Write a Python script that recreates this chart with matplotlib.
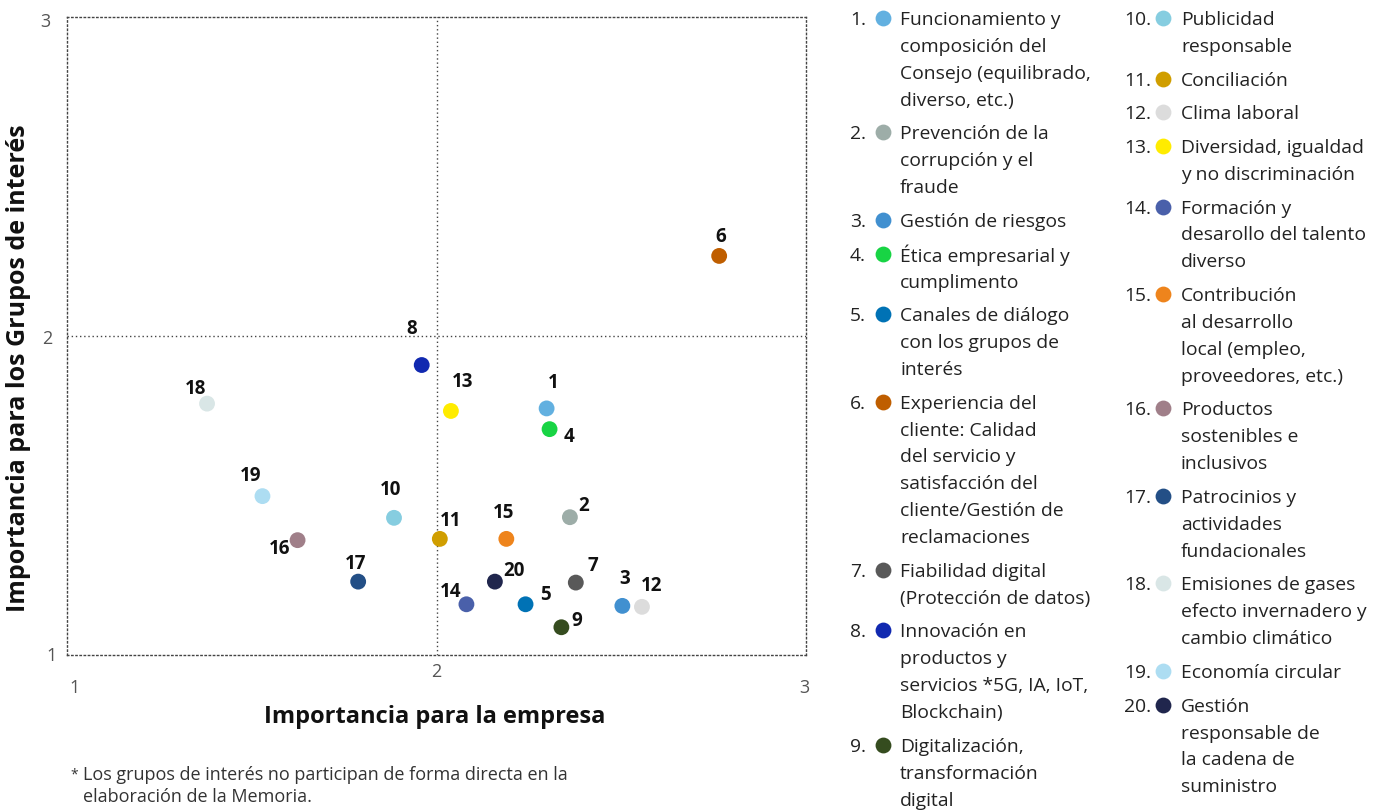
import matplotlib.pyplot as plt

plt.rcParams['font.family'] = ['Open Sans', 'DejaVu Sans']

# Datos: importancia para la empresa (x) y para los grupos de interés (y)
ids = list(range(1, 21))
empresa = [2.298, 2.361, 2.503, 2.306, 2.241, 2.765, 2.377, 1.960, 2.338, 1.885,
           2.009, 2.556, 2.039, 2.081, 2.189, 1.624, 1.788, 1.379, 1.529, 2.158]
grupos = [1.773, 1.432, 1.154, 1.708, 1.159, 2.251, 1.227, 1.909, 1.087, 1.430,
          1.364, 1.151, 1.765, 1.159, 1.364, 1.360, 1.230, 1.788, 1.498, 1.230]
colores = ['#62B0E0', '#9DADA8', '#4190D0', '#18D444', '#0072B5', '#BF5E00', '#595959',
           '#1129B0', '#354C1F', '#86CDE0', '#D09E00', '#DCDCDC', '#FFEC00', '#4A60AA',
           '#EE841C', '#A07F89', '#234F86', '#D9E6E6', '#ADDDF2', '#20264D']
temas = [
    "Funcionamiento y\ncomposición del\nConsejo (equilibrado,\ndiverso, etc.)",
    "Prevención de la\ncorrupción y el\nfraude",
    "Gestión de riesgos",
    "Ética empresarial y\ncumplimento",
    "Canales de diálogo\ncon los grupos de\ninterés",
    "Experiencia del\ncliente: Calidad\ndel servicio y\nsatisfacción del\ncliente/Gestión de\nreclamaciones",
    "Fiabilidad digital\n(Protección de datos)",
    "Innovación en\nproductos y\nservicios *5G, IA, IoT,\nBlockchain)",
    "Digitalización,\ntransformación\ndigital",
    "Publicidad\nresponsable",
    "Conciliación",
    "Clima laboral",
    "Diversidad, igualdad\ny no discriminación",
    "Formación y\ndesarollo del talento\ndiverso",
    "Contribución\nal desarrollo\nlocal (empleo,\nproveedores, etc.)",
    "Productos\nsostenibles e\ninclusivos",
    "Patrocinios y\nactividades\nfundacionales",
    "Emisiones de gases\nefecto invernadero y\ncambio climático",
    "Economía circular",
    "Gestión\nresponsable de\nla cadena de\nsuministro",
]
ticks = [1, 2, 3]

# desplazamiento de las etiquetas numéricas (px, respecto al punto)
label_offsets = [(7, -25), (14, -11), (2, -27), (19, 8), (20, -9), (2, -19), (17, -17),
                 (-10, -36), (15, -6), (-3, -28), (11, -18), (10, -21), (12, -29),
                 (-16, -12), (-3, -26), (-18, 9), (-3, -18), (-12, -15), (-12, -20),
                 (19, -11)]

W, H = 1384, 810
fig = plt.figure(figsize=(W / 100, H / 100), dpi=100)
ax = fig.add_axes([67 / W, 1 - 655 / H, 739 / W, 638 / H])
ax.set_xlim(1, 3)
ax.set_ylim(1, 3)
dots = (0, (1, 2))
for sp in ax.spines.values():
    sp.set_linestyle(dots)
    sp.set_color('#444444')
    sp.set_linewidth(1.0)
ax.axvline(2, color='#444444', lw=1.0, ls=dots)
ax.axhline(2, color='#444444', lw=1.0, ls=dots)
ax.set_xticks([])
ax.set_yticks([])

ax.scatter(empresa, grupos, s=130, c=colores, zorder=3, linewidths=0)
for i, n in enumerate(ids):
    dx, dy = label_offsets[i]
    ax.annotate(str(n), (empresa[i], grupos[i]), xytext=(dx, -dy), textcoords='offset pixels',
                ha='center', va='center', fontsize=13.5, fontweight='bold', color='#111111')

# etiquetas de los ejes (posición como en el original)
xt_off = {1: (8, -33), 2: (0, -17), 3: (-2, -33)}
yt_off = {1: (-15, -1), 2: (-20, -3), 3: (-22, -5)}
for t in ticks:
    ax.annotate(str(t), (t, 1), xytext=xt_off[t], textcoords='offset pixels',
                ha='center', va='center', fontsize=13, color='#555555', annotation_clip=False)
    ax.annotate(str(t), (1, t), xytext=yt_off[t], textcoords='offset pixels',
                ha='center', va='center', fontsize=13, color='#555555', annotation_clip=False)

# capa en píxeles para textos y leyenda
ov = fig.add_axes([0, 0, 1, 1], zorder=-1)
ov.set_xlim(0, W)
ov.set_ylim(H, 0)
ov.axis('off')

ov.text(435, 717, 'Importancia para la empresa', ha='center', va='center',
        fontsize=17, fontweight='bold', color='#111111')
ov.text(19, 368, 'Importancia para los Grupos de interés', ha='center', va='center',
        rotation=90, fontsize=18, fontweight='bold', color='#111111')
ov.text(70, 775, '*', ha='left', va='center', fontsize=10, color='#333333')
ov.text(83, 775, 'Los grupos de interés no participan de forma directa en la',
        ha='left', va='center', fontsize=13, color='#333333')
ov.text(83, 797, 'elaboración de la Memoria.', ha='left', va='center',
        fontsize=13, color='#333333')

step, gap = 26.9, 6.8
columns = [(range(0, 9), 850, 883, 900), (range(9, 20), 1124, 1163, 1181)]
for rows, x_num, x_dot, x_txt in columns:
    y = 20
    for i in rows:
        lines = temas[i].split('\n')
        ov.text(x_num, y, f'{ids[i]}.', ha='left', va='center', fontsize=13.9, color='#222222')
        ov.scatter([x_dot], [y - 2], s=130, c=colores[i], linewidths=0)
        for k, line in enumerate(lines):
            ov.text(x_txt, y + k * step, line, ha='left', va='center', fontsize=13.9, color='#222222')
        y += len(lines) * step + gap

fig.savefig('out.png', dpi=100)
